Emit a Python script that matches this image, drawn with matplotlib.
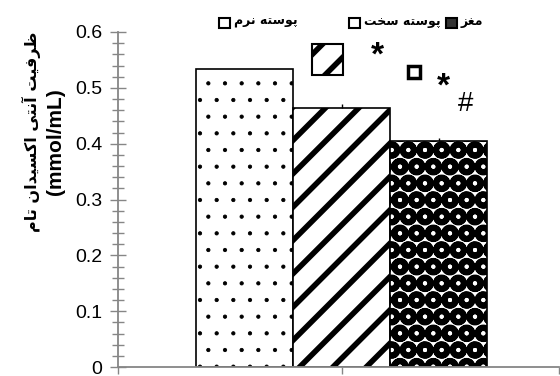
import numpy as np
import matplotlib
matplotlib.use('Agg')
import matplotlib.pyplot as plt
from matplotlib.patches import Rectangle

# data
series = ['پوسته نرم', 'پوسته سخت', 'مغز']
values = [0.533, 0.464, 0.405]
err_up = [0.0, 0.007, 0.006]
hatches = ['.', '/', 'O']
ylabel_fa = 'ظرفیت آنتی اکسیدان تام'
ylabel_unit = '(mmol/mL)'

# contextual forms (isolated, final, initial, medial) - matplotlib has no arabic shaping
FORMS = {
    'ا': ('\uFE8D', '\uFE8E'), 'آ': ('\uFE81', '\uFE82'),
    'د': ('\uFEA9', '\uFEAA'), 'ر': ('\uFEAD', '\uFEAE'),
    'ز': ('\uFEAF', '\uFEB0'), 'و': ('\uFEED', '\uFEEE'),
    'پ': ('\uFB56', '\uFB57', '\uFB58', '\uFB59'),
    'ت': ('\uFE95', '\uFE96', '\uFE97', '\uFE98'),
    'خ': ('\uFEA5', '\uFEA6', '\uFEA7', '\uFEA8'),
    'س': ('\uFEB1', '\uFEB2', '\uFEB3', '\uFEB4'),
    'ظ': ('\uFEC5', '\uFEC6', '\uFEC7', '\uFEC8'),
    'غ': ('\uFECD', '\uFECE', '\uFECF', '\uFED0'),
    'ف': ('\uFED1', '\uFED2', '\uFED3', '\uFED4'),
    'ک': ('\uFB8E', '\uFB8F', '\uFB90', '\uFB91'),
    'م': ('\uFEE1', '\uFEE2', '\uFEE3', '\uFEE4'),
    'ن': ('\uFEE5', '\uFEE6', '\uFEE7', '\uFEE8'),
    'ه': ('\uFEE9', '\uFEEA', '\uFEEB', '\uFEEC'),
    'ی': ('\uFBFC', '\uFBFD', '\uFBFE', '\uFBFF'),
}

def shape(text):
    out = []
    for i, ch in enumerate(text):
        f = FORMS.get(ch)
        if f is None:
            out.append(ch)
            continue
        prev = text[i-1] if i > 0 else ''
        nxt = text[i+1] if i+1 < len(text) else ''
        jp = prev in FORMS and len(FORMS[prev]) == 4
        jn = len(f) == 4 and nxt in FORMS
        if jp and jn:
            out.append(f[3])
        elif jp:
            out.append(f[1])
        elif jn:
            out.append(f[2])
        else:
            out.append(f[0])
    return ''.join(reversed(out))

W, H = 560, 376
def px(x, y):
    return x / W, 1 - y / H

plt.rcParams['font.family'] = ['Liberation Sans', 'DejaVu Sans']
fig = plt.figure(figsize=(5.6, 3.76), dpi=100)
ax = fig.add_axes([118/W, 9/H, 441/W, 335/H])

x = np.arange(len(values))
grey = '#868686'
lws = [0.6, 4.0, 4.2]
for i in range(len(values)):
    b = ax.bar(x[i], values[i], width=1.0, color='white', edgecolor='black',
               linewidth=1.2, hatch=hatches[i], zorder=2)
    for p in b:
        if hasattr(p, 'set_hatch_linewidth'):
            p.set_hatch_linewidth(lws[i])
ax.errorbar(x, values, yerr=[[0]*len(values), err_up], fmt='none',
            ecolor='black', elinewidth=1.0, capsize=0, zorder=3)

x0, x1 = -1.304, 3.242
ax.set_xlim(x0, x1)
ax.set_ylim(0, 0.6)
ax.set_yticks(np.arange(0, 0.61, 0.1))
ax.set_yticklabels(['0', '0.1', '0.2', '0.3', '0.4', '0.5', '0.6'])
ax.set_yticks(np.arange(0, 0.601, 0.02), minor=True)
ax.set_xticks([x0, 1, x1])
ax.set_xticklabels([])
ax.tick_params(axis='y', which='major', direction='inout', length=11, width=1,
               color=grey, labelsize=14, pad=6)
ax.tick_params(axis='y', which='minor', direction='inout', length=8, width=1,
               color=grey)
ax.tick_params(axis='x', direction='out', length=5, width=1, color=grey)
for s in ['top', 'right']:
    ax.spines[s].set_visible(False)
for s in ['left', 'bottom']:
    ax.spines[s].set_color(grey)
    ax.spines[s].set_linewidth(1.3)

# y labels
fig.text(*px(31, 132), shape(ylabel_fa), rotation=90, ha='center', va='center',
         fontsize=11.5, fontweight='bold', family='DejaVu Sans')
fig.text(*px(55, 142), ylabel_unit, rotation=90, ha='center', va='center',
         fontsize=15, fontweight='bold')

# legend row at top: text right edges, key sits just left of each text
leg_x = [298, 441, 483]
key_fc = ['white', 'white', '#333333']
renderer = fig.canvas.get_renderer()
for i in range(len(series)):
    t = fig.text(*px(leg_x[i], 21), shape(series[i]), ha='right', va='center',
                 fontsize=9, fontweight='bold', family='DejaVu Sans')
    left = t.get_window_extent(renderer).x0
    fig.patches.append(Rectangle(((left - 15) / W, px(0, 28)[1]), 11/W, 10/H,
                                 transform=fig.transFigure, facecolor=key_fc[i],
                                 edgecolor='black', linewidth=1.5))

# stray legend keys and significance marks
big = Rectangle(px(312, 75), 31/W, 31/H, transform=fig.transFigure,
                facecolor='white', edgecolor='black', linewidth=1.5, hatch='/')
if hasattr(big, 'set_hatch_linewidth'):
    big.set_hatch_linewidth(4.0)
fig.patches.append(big)
fig.patches.append(Rectangle(px(408, 78), 12/W, 12/H, transform=fig.transFigure,
                             facecolor='white', edgecolor='black', linewidth=2.5))
fig.text(*px(377, 56), '*', ha='center', va='center', fontsize=24, fontweight='bold')
fig.text(*px(443, 87), '*', ha='center', va='center', fontsize=24, fontweight='bold')
fig.text(*px(466, 104), '#', ha='center', va='center', fontsize=20)

fig.savefig('out.png', dpi=100)
